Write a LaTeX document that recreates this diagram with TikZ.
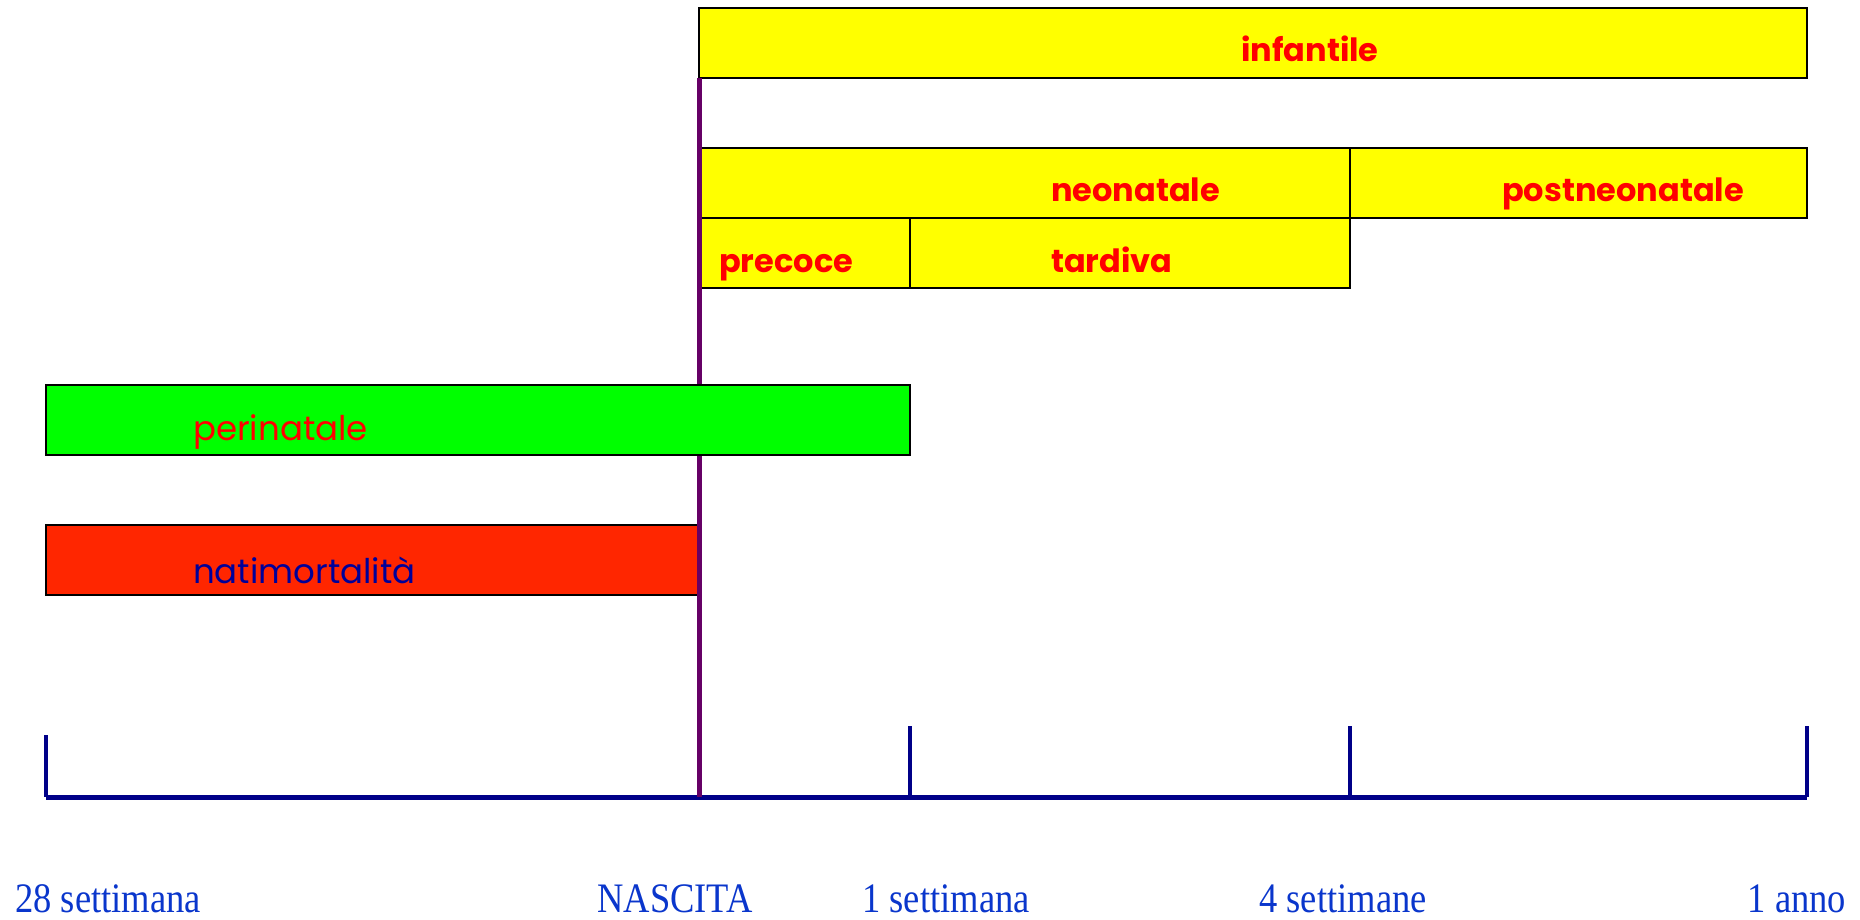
\documentclass[tikz,border=0pt]{standalone}
\usepackage{fontspec}
\setmainfont{Liberation Serif}
\newfontfamily\comicfont{Poppins}
\definecolor{boxyellow}{HTML}{FFFF00}
\definecolor{boxgreen}{HTML}{00FF00}
\definecolor{boxred}{HTML}{FF2600}
\definecolor{birthpurple}{HTML}{660066}
\definecolor{axisnavy}{HTML}{000088}
\definecolor{labelred}{HTML}{FF0000}
\definecolor{labelnavy}{HTML}{000099}
\definecolor{axisblue}{HTML}{0A36CC}
\begin{document}
\begin{tikzpicture}[x=1pt,y=-1pt,
  band/.style={draw=black,line width=2pt,inner sep=0pt,outer sep=0pt,anchor=north west,minimum height=70pt},
  boldlabel/.style={text=labelred,font=\comicfont\bfseries\fontsize{32}{36}\selectfont,inner sep=0pt,anchor=base west},
  plainlabel/.style={font=\comicfont\fontsize{34}{38}\selectfont,inner sep=0pt,anchor=base west},
  axisline/.style={draw=axisnavy,line width=5pt},
  tickline/.style={draw=axisnavy,line width=4pt},
  birthline/.style={draw=birthpurple,line width=5pt},
  timelabel/.style={text=axisblue,font=\fontsize{36.5}{40}\selectfont,inner sep=0pt,anchor=base}]
\useasboundingbox (0,0) rectangle (1860,920);
\fill[white] (0,0) rectangle (1860,920);
% stillbirth band (under the birth line)
\node[band,fill=boxred,minimum width=655pt] (nati) at (46,525) {};
% yellow bands
\node[band,fill=boxyellow,minimum width=1108pt] (inf) at (699,8) {};
\node[band,fill=boxyellow,minimum width=651pt] (neo) at (699,148) {};
\node[band,fill=boxyellow,minimum width=457pt] (post) at (1350,148) {};
\node[band,fill=boxyellow,minimum width=211pt] (prec) at (699,218) {};
\node[band,fill=boxyellow,minimum width=440pt] (tard) at (910,218) {};
% axis
\coordinate (t0) at (46,797);
\coordinate (t1) at (699,797);
\coordinate (t2) at (910,797);
\coordinate (t3) at (1350,797);
\coordinate (t4) at (1807,797);
\coordinate (k0) at (46,735);
\coordinate (k2) at (910,726);
\coordinate (k3) at (1350,726);
\coordinate (k4) at (1807,726);
\draw[tickline] (t0) -- (k0);
\draw[tickline] (t2) -- (k2);
\draw[tickline] (t3) -- (k3);
\draw[tickline] (t4) -- (k4);
\draw[axisline] (t0) -- (t4);
% birth line
\draw[birthline] (inf.south west) -- (t1);
% perinatal band (over the birth line)
\node[band,fill=boxgreen,minimum width=864pt] (peri) at (46,385) {};
% labels
\node[boldlabel] (linf) at (1241,62) {infantile};
\node[boldlabel] (lneo) at (1051,202) {neonatale};
\node[boldlabel] (lpost) at (1502,202) {postneonatale};
\node[boldlabel] (lprec) at (719,272) {precoce};
\node[boldlabel] (ltard) at (1051,272) {tardiva};
\node[plainlabel,text=labelred] (lperi) at (193,440) {perinatale};
\node[plainlabel,text=labelnavy] (lnati) at (193,583) {natimortalità};
% time labels
\node[timelabel] (x0) at (108,912) {\scalebox{1}[1.15]{28 settimana}};
\node[timelabel] (x1) at (675,912) {\scalebox{1}[1.15]{NASCITA}};
\node[timelabel] (x2) at (946,912) {\scalebox{1}[1.15]{1 settimana}};
\node[timelabel] (x3) at (1343,912) {\scalebox{1}[1.15]{4 settimane}};
\node[timelabel] (x4) at (1797,912) {\scalebox{1}[1.15]{1 anno}};
\end{tikzpicture}
\end{document}
